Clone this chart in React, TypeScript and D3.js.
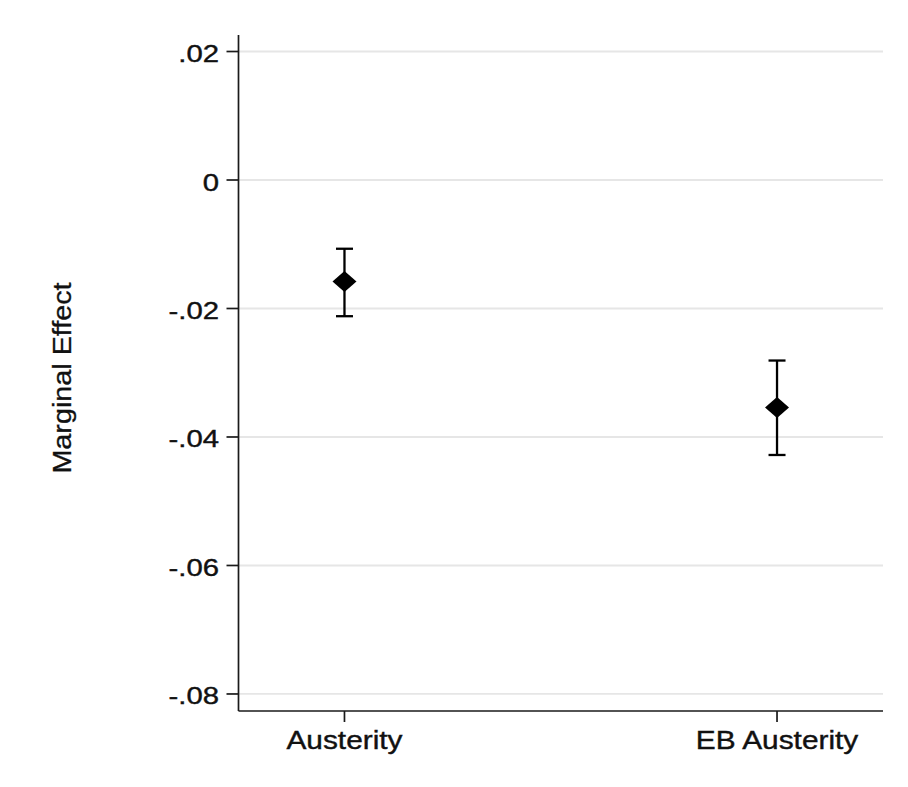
import React, { useRef, useEffect } from "react"
import * as d3 from "d3"

// values
const categories = ["Austerity", "EB Austerity"]
const estimates = [-0.0158, -0.0354]
const upper = [-0.0107, -0.0281]
const lower = [-0.0212, -0.0428]
const yTicks = [0.02, 0, -0.02, -0.04, -0.06, -0.08]
const yTickLabels = [".02", "0", "-.02", "-.04", "-.06", "-.08"]

const W = 908
const H = 787

const App = () => {
  const ref = useRef<SVGSVGElement>(null)

  useEffect(() => {
    const svg = d3.select(ref.current)
    svg.selectAll("*").remove()

    const left = 238.5
    const right = 883
    const top = 35
    const bottom = 711

    const y = d3.scaleLinear().domain([-0.08265, 0.02257]).range([bottom, top])
    const x = d3.scalePoint<string>().domain(categories).range([left, right]).padding(0.245)

    const font = "'Liberation Sans', Arial, Helvetica, sans-serif"
    const ink = "#1a1a1a"

    svg.append("rect").attr("width", W).attr("height", H).attr("fill", "#fff")

    // grid lines
    svg.selectAll(".grid")
      .data(yTicks)
      .enter()
      .append("line")
      .attr("x1", left)
      .attr("x2", right)
      .attr("y1", d => y(d))
      .attr("y2", d => y(d))
      .attr("stroke", "#e6e6e6")
      .attr("stroke-width", 1.8)

    // y axis
    svg.append("line")
      .attr("x1", left).attr("x2", left)
      .attr("y1", top).attr("y2", bottom)
      .attr("stroke", ink).attr("stroke-width", 1.7)
    svg.selectAll(".ytick")
      .data(yTicks)
      .enter()
      .append("line")
      .attr("x1", left - 12).attr("x2", left)
      .attr("y1", d => y(d)).attr("y2", d => y(d))
      .attr("stroke", ink).attr("stroke-width", 1.7)
    svg.selectAll(".ylab")
      .data(yTicks)
      .enter()
      .append("text")
      .attr("transform", d => `translate(219,${y(d) + 10.5}) scale(1.22,1)`)
      .attr("text-anchor", "end")
      .attr("font-family", font)
      .attr("font-size", 24)
      .attr("fill", "#111")
      .attr("stroke", "#111")
      .attr("stroke-width", 0.4)
      .text((d, i) => yTickLabels[i])

    // x axis
    svg.append("line")
      .attr("x1", left).attr("x2", right)
      .attr("y1", bottom).attr("y2", bottom)
      .attr("stroke", ink).attr("stroke-width", 1.7)
    svg.selectAll(".xtick")
      .data(categories)
      .enter()
      .append("line")
      .attr("x1", d => x(d)!).attr("x2", d => x(d)!)
      .attr("y1", bottom).attr("y2", bottom + 11)
      .attr("stroke", ink).attr("stroke-width", 1.7)
    svg.selectAll(".xlab")
      .data(categories)
      .enter()
      .append("text")
      .attr("transform", d => `translate(${x(d)},748.5) scale(1.17,1)`)
      .attr("text-anchor", "middle")
      .attr("font-family", font)
      .attr("font-size", 25.5)
      .attr("fill", "#111")
      .attr("stroke", "#111")
      .attr("stroke-width", 0.4)
      .text(d => d)

    // axis title
    svg.append("text")
      .attr("transform", "translate(71,378) rotate(-90) scale(1.15,1)")
      .attr("text-anchor", "middle")
      .attr("font-family", font)
      .attr("font-size", 25)
      .attr("fill", "#111")
      .attr("stroke", "#111")
      .attr("stroke-width", 0.3)
      .text("Marginal Effect")

    // confidence intervals
    const g = svg.selectAll(".ci")
      .data(categories)
      .enter()
      .append("g")
    g.append("line")
      .attr("x1", d => x(d)!).attr("x2", d => x(d)!)
      .attr("y1", (d, i) => y(upper[i])).attr("y2", (d, i) => y(lower[i]))
      .attr("stroke", "#000").attr("stroke-width", 2.3)
    g.append("line")
      .attr("x1", d => x(d)! - 8.5).attr("x2", d => x(d)! + 8.5)
      .attr("y1", (d, i) => y(upper[i])).attr("y2", (d, i) => y(upper[i]))
      .attr("stroke", "#000").attr("stroke-width", 2.3)
    g.append("line")
      .attr("x1", d => x(d)! - 8.5).attr("x2", d => x(d)! + 8.5)
      .attr("y1", (d, i) => y(lower[i])).attr("y2", (d, i) => y(lower[i]))
      .attr("stroke", "#000").attr("stroke-width", 2.3)

    // point estimates (diamonds)
    g.append("path")
      .attr("d", (d, i) => {
        const cx = x(d)!
        const cy = y(estimates[i])
        return `M${cx},${cy - 10.5}L${cx + 12},${cy}L${cx},${cy + 10.5}L${cx - 12},${cy}Z`
      })
      .attr("fill", "#000")
  }, [])

  return <svg ref={ref} width={W} height={H} style={{ display: "block", margin: -8 }}></svg>
}

export default App
